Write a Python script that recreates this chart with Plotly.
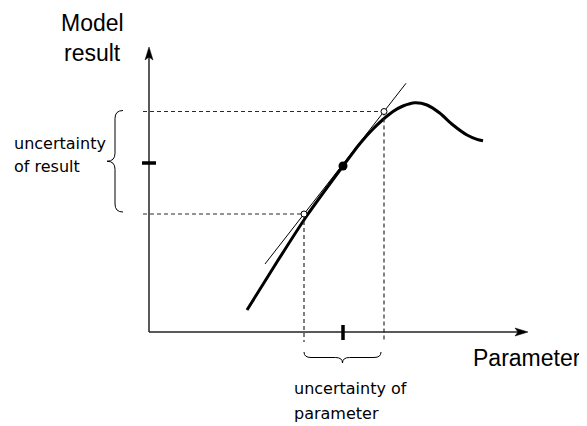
import plotly.graph_objects as go

# ---- data (schematic values) ----
# model curve: parameter -> model result
curve_param = [98, 127, 158, 194, 211, 224, 234, 244, 254, 266, 278, 291, 304, 318, 328, 334]
curve_result = [22, 68.5, 116.5, 166, 188.5, 203, 212.5, 220.5, 226, 229.3, 227, 218.7, 207, 197, 192.7, 191.3]

param_center = 194
param_low = 155
param_high = 235
result_tick = 169
result_center = 166
result_low = 118
result_high = 220.5

param_axis_max = 379
result_axis_max = 285

secant_from = 116
secant_to = 257

title_y = ["Model", "result"]
title_x = "Parameter"
label_result = ["uncertainty", "of result"]
label_param = ["uncertainty of", "parameter"]

# ---- figure ----
fig = go.Figure()

# secant (linear approximation) through the two end points
slope = (result_high - result_low) / (param_high - param_low)
sec_x = [secant_from, secant_to]
sec_y = [result_low + slope * (v - param_low) for v in sec_x]
fig.add_trace(go.Scatter(x=sec_x, y=sec_y, mode="lines",
                         line=dict(color="black", width=1), hoverinfo="skip"))

# model curve
fig.add_trace(go.Scatter(x=curve_param, y=curve_result, mode="lines",
                         line=dict(color="black", width=3, shape="spline", smoothing=0.7),
                         hoverinfo="skip"))

dash_style = dict(color="#2a2a2a", width=1.2, dash="4px,3px")
# dashed guides
for p, r in [(param_low, result_low), (param_high, result_high)]:
    fig.add_trace(go.Scatter(x=[-6, p], y=[r, r], mode="lines", line=dash_style, hoverinfo="skip"))
    fig.add_trace(go.Scatter(x=[p, p], y=[r, -10], mode="lines", line=dash_style, hoverinfo="skip"))

# open circles
fig.add_trace(go.Scatter(x=[param_low, param_high], y=[result_low, result_high], mode="markers",
                         marker=dict(size=6, color="white", line=dict(color="black", width=1)),
                         hoverinfo="skip"))
# central point
fig.add_trace(go.Scatter(x=[param_center], y=[result_center], mode="markers",
                         marker=dict(size=9, color="black"), hoverinfo="skip"))

shapes = []
# axes
shapes.append(dict(type="line", x0=0, y0=0, x1=param_axis_max - 10, y1=0,
                   line=dict(color="#222", width=1.5)))
shapes.append(dict(type="line", x0=0, y0=0, x1=0, y1=result_axis_max - 10,
                   line=dict(color="#222", width=1.5)))
# arrow heads
L, W = 13, 4
xa = param_axis_max
shapes.append(dict(type="path",
                   path=f"M {xa} 0 L {xa-L} {W} L {xa-L+3} 0 L {xa-L} {-W} Z",
                   fillcolor="black", line=dict(color="black", width=0.5)))
ya = result_axis_max
shapes.append(dict(type="path",
                   path=f"M 0 {ya} L {-W} {ya-L} L 0 {ya-L+3} L {W} {ya-L} Z",
                   fillcolor="black", line=dict(color="black", width=0.5)))
# ticks
shapes.append(dict(type="line", x0=-7, x1=7, y0=result_tick, y1=result_tick,
                   line=dict(color="black", width=3.5)))
shapes.append(dict(type="line", x0=param_center, x1=param_center, y0=-8, y1=7,
                   line=dict(color="black", width=3.5)))

# braces
def brace_vertical(x_tip, x_end, y0, y1):
    ym = (y0 + y1) / 2
    xm = (x_tip + x_end) / 2
    r = 8
    return (f"M {x_end} {y1} Q {xm} {y1} {xm} {y1 - r} L {xm} {ym + r} "
            f"Q {xm} {ym} {x_tip} {ym} Q {xm} {ym} {xm} {ym - r} "
            f"L {xm} {y0 + r} Q {xm} {y0} {x_end} {y0}")

def brace_horizontal(y_tip, y_end, x0, x1):
    xm = (x0 + x1) / 2
    ymid = (y_tip + y_end) / 2
    r = 7
    return (f"M {x0} {y_end} Q {x0} {ymid} {x0 + r} {ymid} L {xm - r} {ymid} "
            f"Q {xm} {ymid} {xm} {y_tip} Q {xm} {ymid} {xm + r} {ymid} "
            f"L {x1 - r} {ymid} Q {x1} {ymid} {x1} {y_end}")

shapes.append(dict(type="path", path=brace_vertical(-42, -26, result_low + 2, result_high + 1),
                   line=dict(color="black", width=1)))
shapes.append(dict(type="path", path=brace_horizontal(-31, -20, param_low, param_high - 3),
                   line=dict(color="black", width=1)))

big = dict(family="Liberation Sans, Arial, sans-serif", size=23, color="black")
small = dict(family="DejaVu Sans, Verdana, sans-serif", size=16, color="black")

ann = []
ann.append(dict(x=-57, y=309, text=title_y[0], font=big, xanchor="center", yanchor="middle"))
ann.append(dict(x=-57, y=279, text=title_y[1], font=big, xanchor="center", yanchor="middle"))
ann.append(dict(x=378, y=-26, text=title_x, font=big, xanchor="center", yanchor="middle"))
ann.append(dict(x=-137, y=189, text=label_result[0], font=small, xanchor="left", yanchor="middle"))
ann.append(dict(x=-137, y=166, text=label_result[1], font=small, xanchor="left", yanchor="middle"))
ann.append(dict(x=143, y=-56, text=label_param[0], font=small, xanchor="left", yanchor="middle"))
ann.append(dict(x=143, y=-81, text=label_param[1], font=small, xanchor="left", yanchor="middle"))
for a in ann:
    a.update(showarrow=False, xref="x", yref="y")

# the page adds an 8px body margin; the figure fills the rest of the window
fig.update_layout(
    width=579, height=418,
    margin=dict(l=0, r=0, t=0, b=0),
    paper_bgcolor="white", plot_bgcolor="white",
    showlegend=False,
    xaxis=dict(range=[-141, 438], visible=False, fixedrange=True),
    yaxis=dict(range=[-94, 324], visible=False, fixedrange=True),
    shapes=shapes, annotations=ann,
)

fig.write_html("out.html")
